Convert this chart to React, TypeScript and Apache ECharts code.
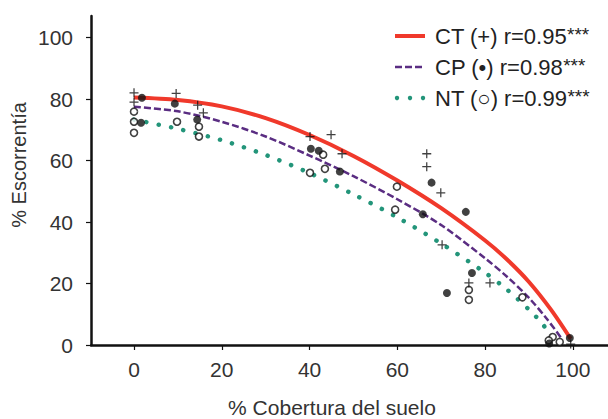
import React, { useEffect, useRef } from "react";
import * as echarts from "echarts";

// Axis tick values
const xTicks = [0, 20, 40, 60, 80, 100];
const yTicks = [0, 20, 40, 60, 80, 100];

// Observed points: CT (+)
const ctX = [0, 0, 9.6, 14.5, 15.8, 40.1, 44.9, 47.4, 66.7, 66.7, 69.9, 70.2, 76.3, 81.1, 99.5];
const ctY = [82, 79, 81.8, 78, 75.5, 67.8, 68.4, 62.2, 62.2, 58, 49.5, 32.6, 20.2, 20.2, 0.3];

// Observed points: CP (•)
const cpX = [1.8, 1.6, 9.3, 14.4, 40.3, 42.1, 46.9, 65.8, 67.8, 75.6, 77, 71.3, 94.6, 99.3];
const cpY = [80.4, 72.3, 78.5, 73.3, 63.8, 63.2, 56.4, 42.5, 52.8, 43.3, 23.4, 16.9, 0.5, 2.3];

// Observed points: NT (○)
const ntX = [0, 0, 0, 9.8, 14.8, 14.8, 43.1, 43.5, 40.1, 59.9, 59.5, 76.3, 76.3, 88.5, 95.4, 97, 94.5];
const ntY = [75.9, 72.6, 69, 72.6, 71, 67.8, 61.9, 57.3, 56, 51.5, 44, 17.9, 14.7, 15.5, 2.6, 1, 1.5];

// Fitted curves
const ctFitX = [0, 10, 20, 30, 40, 50, 60, 70, 80, 85, 90, 95, 99.5];
const ctFitY = [80.5, 79.7, 77.6, 73.8, 68.3, 61.5, 53.5, 44.5, 34, 27.8, 20.5, 11.5, 2];
const cpFitX = [0, 10, 20, 30, 40, 50, 60, 70, 80, 85, 90, 94, 97.5];
const cpFitY = [77.5, 76, 72.6, 67.8, 61.6, 54.9, 47.4, 39, 28.2, 22.2, 15.3, 8.6, 2];
const ntFitX = [0, 10, 20, 30, 40, 50, 60, 70, 80, 85, 90, 93, 95];
const ntFitY = [73.3, 70.3, 66.6, 61.8, 55.9, 49, 41.5, 33, 23.5, 18, 11.5, 7, 2.8];

const legendLabels = ["CT (+) r=0.95", "CP (•) r=0.98", "NT (○) r=0.99"];
const xName = "% Cobertura del suelo";
const yName = "% Escorrentía";

const zip = (xs: number[], ys: number[]) => xs.map((x, i) => [x, ys[i]]);

const FONT = "'Liberation Sans', Arial, sans-serif";
const RED = "#f0392b";
const PURPLE = "#5a2d82";
const GREEN = "#23957a";
const PLUS = "path://M4.3,0H5.7V4.3H10V5.7H5.7V10H4.3V5.7H0V4.3H4.3Z";

export default function App() {
  const ref = useRef<HTMLDivElement>(null);
  useEffect(() => {
    if (!ref.current) return;
    const chart = echarts.init(ref.current, null, { renderer: "svg" });
    const axisCommon = {
      type: "value" as const,
      splitLine: { show: false },
      axisLine: { show: true, onZero: false, lineStyle: { color: "#111", width: 2.5 } },
    };
    const legendRow = (i: number, y: number) => ({
      type: "text",
      x: 435,
      y,
      z: 100,
      style: {
        text: legendLabels[i] + "{s|***}",
        fontFamily: FONT,
        fontSize: 22,
        fill: "#222",
        verticalAlign: "middle",
        rich: { s: { fontSize: 19, fontFamily: FONT, fill: "#222", padding: [0, 0, 3, 0] } },
      },
    });
    chart.setOption({
      animation: false,
      backgroundColor: "#fff",
      grid: { left: 91, right: 0, top: 16, bottom: 74 },
      xAxis: {
        ...axisCommon,
        min: -9.8,
        max: 108,
        axisTick: { show: true, customValues: xTicks, length: 5, lineStyle: { color: "#111", width: 1.2 } },
        axisLabel: { customValues: xTicks, fontSize: 21, color: "#333", margin: 14, fontFamily: FONT },
      },
      yAxis: {
        ...axisCommon,
        min: 0,
        max: 107,
        axisTick: { show: true, customValues: yTicks, length: 5, lineStyle: { color: "#111", width: 1.2 } },
        axisLabel: { customValues: yTicks, fontSize: 21, color: "#333", margin: 18, fontFamily: FONT },
      },
      series: [
        {
          type: "line", data: zip(ctFitX, ctFitY), smooth: 0.3, symbol: "none",
          lineStyle: { color: RED, width: 4 }, z: 2,
        },
        {
          type: "line", data: zip(cpFitX, cpFitY), smooth: 0.3, symbol: "none",
          lineStyle: { color: PURPLE, width: 2.5, type: [7, 3] }, z: 2,
        },
        {
          type: "line", data: zip(ntFitX, ntFitY), smooth: 0.3, symbol: "none",
          lineStyle: { color: GREEN, width: 4.5, type: [0.1, 12.5], cap: "round" }, z: 2,
        },
        {
          type: "scatter", data: zip(ntX, ntY), symbol: "circle", symbolSize: 7,
          itemStyle: { color: "#fff", borderColor: "#111", borderWidth: 1.6 }, z: 3,
        },
        {
          type: "scatter", data: zip(cpX, cpY), symbol: "circle", symbolSize: 8,
          itemStyle: { color: "#111" }, z: 4,
        },
        {
          type: "scatter", data: zip(ctX, ctY), symbol: PLUS, symbolSize: 9,
          itemStyle: { color: "#111" }, z: 5,
        },
      ],
      graphic: [
        { type: "line", shape: { x1: 395, y1: 36, x2: 425, y2: 36 }, style: { stroke: RED, lineWidth: 4 }, z: 100 },
        { type: "line", shape: { x1: 395, y1: 67, x2: 425, y2: 67 }, style: { stroke: PURPLE, lineWidth: 2.5, lineDash: [7, 3] }, z: 100 },
        { type: "circle", shape: { cx: 397, cy: 98, r: 2.2 }, style: { fill: GREEN }, z: 100 },
        { type: "circle", shape: { cx: 410, cy: 98, r: 2.2 }, style: { fill: GREEN }, z: 100 },
        { type: "circle", shape: { cx: 423, cy: 98, r: 2.2 }, style: { fill: GREEN }, z: 100 },
        legendRow(0, 36),
        legendRow(1, 67),
        legendRow(2, 98),
        {
          type: "text", x: 332, y: 407, z: 100,
          style: { text: xName, fontFamily: FONT, fontSize: 21, fill: "#333", align: "center", verticalAlign: "middle" },
        },
        {
          type: "text", x: 19, y: 165, rotation: Math.PI / 2, z: 100,
          style: { text: yName, fontFamily: FONT, fontSize: 20, fill: "#333", align: "center", verticalAlign: "middle" },
        },
      ],
    });
    return () => chart.dispose();
  }, []);
  return <div ref={ref} style={{ position: "fixed", left: 0, top: 0, width: 608, height: 419 }} />;
}
